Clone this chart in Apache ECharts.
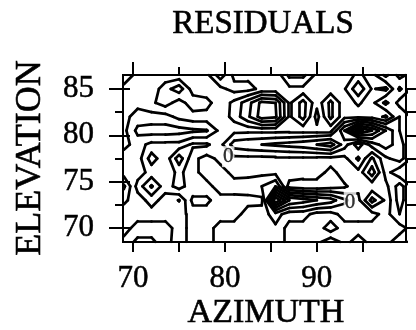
<!DOCTYPE html>
<html>
<head>
<meta charset="utf-8">
<script src="https://cdn.jsdelivr.net/npm/echarts@6/dist/echarts.min.js"></script>
<style>
  html, body { margin: 0; padding: 0; background: #fff; }
  #chart { width: 416px; height: 330px; }
</style>
</head>
<body>
<div id="chart"></div>
<script>
// Sampling grid of the residual field (degrees)
const azimuths = [69, 70.5, 72, 73.5, 75, 76.5, 78, 79.5, 81, 82.5, 84, 85.5,
                  87, 88.5, 90, 91.5, 93, 94.5, 96, 97.5, 99, 100.5];
const elevations = [86.5, 85, 83.5, 82, 80.5, 79, 77.5, 76, 74.5, 73, 71.5, 70, 68.5];

// Residuals, one row per elevation (top to bottom), one value per azimuth
const resEl865 = [-0.6, 0.3, 0.3, 0.3, 0.3, 0.3, 0.3, -1.6, 0.3, 0.3, 0.3, 0.8, -1.3, -1.3, 0.3, 0.3, 0.3, 1.3, 0.4, -1.3, 0.4, -0.5];
const resEl850 = [0.3, 0.3, 0.3, 1.6, 2.6, 0.5, 0.3, 0.3, -0.4, -0.4, 0.3, 0.3, 0.3, 0.3, 0.3, 0.3, 0.9, 2.8, 0.9, 1.3, -1.2, 0.3];
const resEl835 = [0.3, 0.3, 0.8, 1.5, 0.5, 1.6, 1.4, 0.3, 1.3, 2.6, 4.3, 4.0, 0.8, 2.4, 0.3, 2.3, 0.3, 1.2, 0.3, -1.3, 0.4, 0.3];
const resEl820 = [0.3, -0.4, -0.4, -0.4, 0.3, 0.6, 0.6, 0.3, 1.4, 2.8, 4.5, 4.2, 0.8, 2.4, -0.4, 2.3, 0.3, 0.3, 0.4, 1.2, -1.0, 0.3];
const resEl805 = [0.3, -1.3, -1.5, -1.5, -1.4, -1.2, -1.1, 0.3, 0.3, 0.3, 0.3, 0.3, 0.3, 0.3, 0.3, 0.3, -3.0, -6.5, -5.0, -3.0, -1.0, 0.3];
const resEl790 = [0.3, -0.4, 0.3, 0.3, 0.3, 1.2, 1.2, 0.3, -1.5, -1.8, -2.0, -2.2, -2.4, -2.6, -3.0, -3.5, -1.5, 0.6, -1.5, -2.5, -1.5, 0.3];
const resEl775 = [-0.5, -0.5, 1.5, 0.3, 2.6, 0.3, -0.4, 0.3, 0.3, 0.3, 0.3, 0.3, 0.3, 0.3, 0.3, 0.3, 0.3, -1.2, 1.2, -0.8, -1.5, 0.3];
const resEl760 = [-0.5, -0.5, 0.4, 0.3, 1.3, 0.3, -0.4, -0.4, 0.3, 0.3, 0.3, 0.3, 0.3, 0.3, 0.3, 1.5, 0.3, 0.3, 2.6, -0.4, 0.8, 0.3];
const resEl745 = [-2.2, 0.4, 2.15, 0.4, 1.5, 0.3, 0.3, -0.4, -0.4, -0.5, -1.0, -2.0, 1.5, 1.8, 1.8, 1.5, 1.2, 0.3, 0.3, 0.3, -1.5, 0.3];
const resEl730 = [-1.2, -0.5, 0.4, -0.4, -1.05, 1.3, 1.3, 0.3, 0.3, 0.3, 0.3, -7.0, -4.0, -3.5, -3.0, -2.5, -1.2, -0.3, 2.4, 0.8, -1.5, 0.3];
const resEl715 = [-0.5, -0.4, -0.4, -0.4, -0.4, 0.4, 0.4, 0.4, 0.4, -0.4, -0.5, -1.5, -0.4, -0.4, 0.4, 0.4, -0.4, -0.4, -0.4, 0.4, -1.0, 0.4];
const resEl700 = [-0.4, 0.4, 0.4, 0.4, -0.4, 0.4, 0.4, -0.4, -0.4, -0.4, -0.4, -0.8, 0.4, 0.4, 0.4, 1.6, 0.4, 0.4, 0.4, 0.4, 0.4, -0.4];
const resEl685 = [0.3, 1.3, 1.3, 0.3, -0.4, 0.4, 0.4, -0.4, -0.4, -0.4, -0.4, -0.6, 0.3, 0.3, 0.3, -0.7, 0.3, -0.4, 0.3, 0.3, -0.5, 0.3];

const contourLevels = [-7, -6, -5, -4, -3, -2, -1, 0, 1, 2, 3, 4];

// Axis ticks and labels
const azimuthTicks = [70, 75, 80, 85, 90, 95];
const azimuthLabels = [70, 80, 90];
const azimuthMinor = [75, 85, 95];
const elevationLabels = [70, 75, 80, 85];
const elevationMinor = [72.5, 77.5, 82.5];
const elevationRight = [70, 72.5, 75, 77.5, 80, 82.5, 85];

// Contour value labels
const zeroLabelAz = [80.35, 93.6];
const zeroLabelEl = [77.7, 72.8];
const zeroLabelText = ['0', '0'];

const residuals = [resEl865, resEl850, resEl835, resEl820, resEl805, resEl790, resEl775,
                   resEl760, resEl745, resEl730, resEl715, resEl700, resEl685];

// Marching squares: line segments (azimuth/elevation units) for one level
function contourSegments(grid, xs, ys, level) {
  const segs = [];
  for (let r = 0; r < ys.length - 1; r++) {
    for (let c = 0; c < xs.length - 1; c++) {
      const v = [grid[r][c], grid[r][c + 1], grid[r + 1][c + 1], grid[r + 1][c]];
      const p = [[xs[c], ys[r]], [xs[c + 1], ys[r]], [xs[c + 1], ys[r + 1]], [xs[c], ys[r + 1]]];
      const above = v.map(function (x) { return x > level; });
      const cross = function (a, b) {
        if (above[a] === above[b]) return null;
        const t = (level - v[a]) / (v[b] - v[a]);
        return [p[a][0] + t * (p[b][0] - p[a][0]), p[a][1] + t * (p[b][1] - p[a][1])];
      };
      const T = cross(0, 1), R = cross(1, 2), B = cross(3, 2), L = cross(0, 3);
      const pts = [T, R, B, L].filter(function (q) { return q; });
      if (pts.length === 2) {
        segs.push(pts);
      } else if (pts.length === 4) {
        const centreAbove = (v[0] + v[1] + v[2] + v[3]) / 4 > level;
        if (centreAbove === above[0]) {
          segs.push([T, R]); segs.push([B, L]);
        } else {
          segs.push([L, T]); segs.push([R, B]);
        }
      }
    }
  }
  return segs;
}

const contourData = [];
contourLevels.forEach(function (lv) {
  contourSegments(residuals, azimuths, elevations, lv).forEach(function (s) {
    contourData.push({ coords: s });
  });
});

const serif = 'Liberation Serif';
const tickStyle = { color: '#000', width: 2 };
const labelText = { color: '#000', fontFamily: serif, fontSize: 31, textBorderColor: '#000', textBorderWidth: 0.5 };

const chart = echarts.init(document.getElementById('chart'), null, { renderer: 'canvas' });
chart.setOption({
  animation: false,
  backgroundColor: '#fff',
  grid: { left: 123, top: 75, width: 283, height: 167, show: true, borderColor: '#000', borderWidth: 2 },
  xAxis: [
    {
      type: 'value', position: 'bottom', min: 68.9, max: 99.7,
      axisLine: { show: false }, splitLine: { show: false },
      axisTick: { show: true, length: 10, customValues: azimuthTicks, lineStyle: tickStyle },
      axisLabel: Object.assign({ customValues: azimuthLabels, margin: 21 }, labelText)
    },
    {
      type: 'value', position: 'top', min: 68.9, max: 99.7,
      axisLine: { show: false }, splitLine: { show: false }, axisLabel: { show: false },
      axisTick: { show: true, length: 13, customValues: azimuthLabels, lineStyle: tickStyle }
    },
    {
      type: 'value', position: 'top', min: 68.9, max: 99.7,
      axisLine: { show: false }, splitLine: { show: false }, axisLabel: { show: false },
      axisTick: { show: true, length: 8, customValues: azimuthMinor, lineStyle: tickStyle }
    }
  ],
  yAxis: [
    {
      type: 'value', position: 'left', min: 68.5, max: 86.5,
      axisLine: { show: false }, splitLine: { show: false },
      axisTick: { show: true, length: 14, customValues: elevationLabels, lineStyle: tickStyle },
      axisLabel: Object.assign({ customValues: elevationLabels, margin: 29 }, labelText)
    },
    {
      type: 'value', position: 'left', min: 68.5, max: 86.5,
      axisLine: { show: false }, splitLine: { show: false }, axisLabel: { show: false },
      axisTick: { show: true, length: 8, customValues: elevationMinor, lineStyle: tickStyle }
    },
    {
      type: 'value', position: 'left', min: 68.5, max: 86.5,
      axisLine: { show: false }, splitLine: { show: false }, axisLabel: { show: false },
      axisTick: { show: true, inside: true, length: 7, customValues: elevationLabels, lineStyle: tickStyle }
    },
    {
      type: 'value', position: 'right', min: 68.5, max: 86.5,
      axisLine: { show: false }, splitLine: { show: false }, axisLabel: { show: false },
      axisTick: { show: true, length: 10, customValues: elevationRight, lineStyle: tickStyle }
    }
  ],
  graphic: [
    { type: 'text', x: 263, y: 24, style: { text: 'RESIDUALS', font: '33px "Liberation Serif"', fill: '#000', stroke: '#000', lineWidth: 0.6, align: 'center', verticalAlign: 'middle' } },
    { type: 'text', x: 266, y: 313, style: { text: 'AZIMUTH', font: '34px "Liberation Serif"', fill: '#000', stroke: '#000', lineWidth: 0.6, align: 'center', verticalAlign: 'middle' } },
    { type: 'text', x: 31, y: 158, rotation: Math.PI / 2, style: { text: 'ELEVATION', font: '36px "Liberation Serif"', fill: '#000', stroke: '#000', lineWidth: 0.6, align: 'center', verticalAlign: 'middle' } }
  ],
  series: [
    {
      type: 'lines', coordinateSystem: 'cartesian2d', xAxisIndex: 0, yAxisIndex: 0,
      polyline: false, clip: true, silent: true,
      lineStyle: { color: '#000', width: 2.7, opacity: 1, cap: 'round', join: 'round' },
      data: contourData
    },
    {
      type: 'scatter', xAxisIndex: 0, yAxisIndex: 0, symbolSize: 0, silent: true, z: 5,
      data: zeroLabelAz.map(function (a, i) { return [a, zeroLabelEl[i], zeroLabelText[i]]; }),
      label: {
        show: true, position: 'inside', formatter: function (p) { return p.value[2]; },
        color: '#000', fontFamily: serif, fontSize: 21, backgroundColor: '#fff', padding: [0, 1],
        textBorderColor: '#000', textBorderWidth: 0.4
      }
    }
  ]
});
</script>
</body>
</html>
